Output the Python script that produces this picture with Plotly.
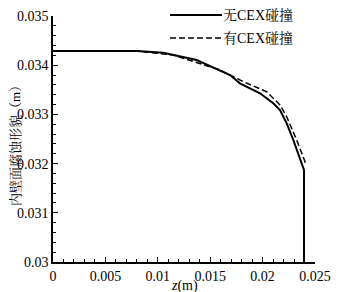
import plotly.graph_objects as go

z_no = [0, 0.0080, 0.01052, 0.01371, 0.01689, 0.01784, 0.01975, 0.02102, 0.02166, 0.02230, 0.02293, 0.02357, 0.02395, 0.02395]
r_no = [0.034289, 0.034289, 0.034254, 0.034106, 0.033801, 0.033632, 0.033429, 0.033226, 0.033089, 0.032819, 0.032480, 0.032073, 0.031870, 0.0300]
z_yes = [0, 0.0080, 0.01148, 0.01594, 0.01816, 0.02039, 0.02166, 0.02230, 0.02325, 0.02405, 0.02395]
r_yes = [0.034289, 0.034289, 0.034207, 0.033902, 0.033665, 0.033461, 0.033191, 0.032953, 0.032480, 0.032039, 0.031970]
names = ["无CEX碰撞", "有CEX碰撞"]

font = '"Liberation Serif", "Times New Roman", "Noto Serif CJK SC", "Noto Sans CJK SC", serif'
W, H = 347, 292
OFF = 8  # page body margin offset
L, T = 53 - OFF, 16 - OFF
pw, ph = 262, 246
R, B = W - L - pw, H - T - ph

def px(x):  # screen px -> paper x
    return (x - 53) / pw

def py(y):  # screen px -> paper y
    return (262 - y) / ph

dashes = ["solid", "6px,3px"]
widths = [2, 1.5]

fig = go.Figure()
for zs, rs, nm, d, w in [(z_no, r_no, names[0], dashes[0], widths[0]),
                          (z_yes, r_yes, names[1], dashes[1], widths[1])]:
    fig.add_trace(go.Scatter(x=zs, y=rs, mode="lines", name=nm, showlegend=False,
                             line=dict(color="black", width=w, dash=d)))

shapes = []
annotations = []
for i, (nm, d, w) in enumerate(zip(names, dashes, widths)):
    yy = 15 + 23 * i
    shapes.append(dict(type="line", xref="paper", yref="paper",
                       x0=px(170), x1=px(222), y0=py(yy), y1=py(yy),
                       line=dict(color="black", width=w, dash=d)))
    annotations.append(dict(text=nm, xref="paper", yref="paper", x=px(221), y=py(yy),
                            xanchor="left", yanchor="middle", showarrow=False,
                            font=dict(size=14)))

annotations.append(dict(text="<i>z</i>(m)", xref="paper", yref="paper", x=0.5, y=0, yshift=-14,
                        xanchor="center", yanchor="top", showarrow=False, font=dict(size=14)))
annotations.append(dict(text="内壁面腐蚀形貌（m）", xref="paper", yref="paper", x=0, xshift=-38,
                        y=py(143), xanchor="center", yanchor="middle", textangle=-90,
                        showarrow=False, font=dict(size=13)))

fig.update_layout(
    width=W, height=H,
    margin=dict(l=L, r=R, t=T, b=B, autoexpand=False),
    plot_bgcolor="white", paper_bgcolor="white",
    font=dict(family=font, size=14, color="black"),
    showlegend=False,
    shapes=shapes,
    annotations=annotations,
    xaxis=dict(range=[0, 0.025], dtick=0.005, tick0=0, showgrid=False, zeroline=False,
               showline=True, linecolor="black", linewidth=1.5, automargin=False,
               ticks="inside", ticklen=5, tickcolor="black",
               minor=dict(dtick=0.001, ticks="inside", ticklen=3, tickcolor="black", showgrid=False),
               tickfont=dict(size=14)),
    yaxis=dict(range=[0.030, 0.035], dtick=0.001, tick0=0.03, showgrid=False, zeroline=False,
               showline=True, linecolor="black", linewidth=1.5, automargin=False,
               ticks="inside", ticklen=5, tickcolor="black",
               minor=dict(dtick=0.0002, ticks="inside", ticklen=3, tickcolor="black", showgrid=False),
               tickfont=dict(size=14)),
)
fig.write_html("out.html")
